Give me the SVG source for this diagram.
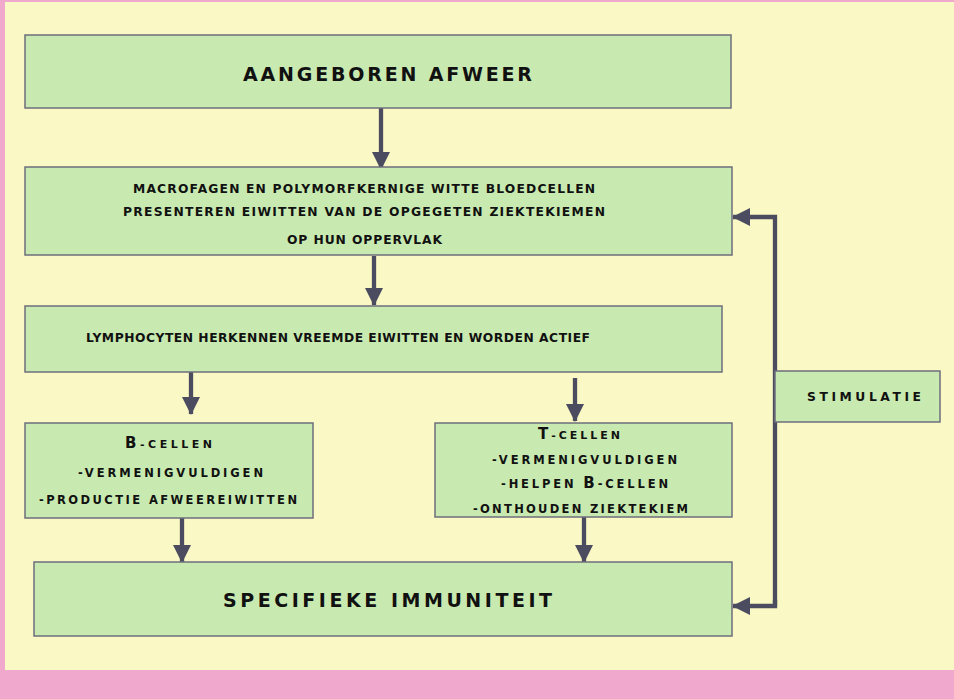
<svg xmlns="http://www.w3.org/2000/svg" width="954" height="699" viewBox="0 0 954 699">
<defs>
<style>
.box{fill:#c8eab0;stroke:#6e6e7c;stroke-width:1.5}
.t{font-family:"DejaVu Sans","Liberation Sans",sans-serif;font-weight:bold;fill:#111}
.big{font-size:19px}
.sm{font-size:12.3px}
.xs{font-size:11.5px}
.c{fill:none;stroke:#4c4c60;stroke-width:4.3}
</style>
<marker id="ah" markerUnits="userSpaceOnUse" markerWidth="18" markerHeight="18" viewBox="0 0 18 18" refX="17" refY="9" orient="auto">
<path d="M0,0 L18,9 L0,18 Z" fill="#4c4c60"/>
</marker>
</defs>
<rect x="0" y="0" width="954" height="699" fill="#faf8c4"/>
<rect x="0" y="0" width="954" height="2" fill="#f0a8cc"/>
<rect x="0" y="0" width="5" height="699" fill="#f0a8cc"/>
<rect x="0" y="670" width="954" height="29" fill="#f0a8cc"/>

<g id="connectors">
<line class="c" x1="381" y1="108" x2="381" y2="169" marker-end="url(#ah)"/>
<line class="c" x1="374" y1="256" x2="374" y2="305" marker-end="url(#ah)"/>
<line class="c" x1="191" y1="372" x2="191" y2="414" marker-end="url(#ah)"/>
<line class="c" x1="575" y1="378" x2="575" y2="421" marker-end="url(#ah)"/>
<line class="c" x1="182" y1="518" x2="182" y2="562" marker-end="url(#ah)"/>
<line class="c" x1="584" y1="517" x2="584" y2="562" marker-end="url(#ah)"/>
<polyline class="c" points="775,606 775,217 733,217" marker-end="url(#ah)"/>
<polyline class="c" points="775,600 775,606 733,606" marker-end="url(#ah)"/>
</g>

<g id="aangeboren">
<rect class="box" x="25" y="35" width="706" height="73"/>
<text class="t big" x="243" y="81" textLength="289" lengthAdjust="spacing">AANGEBOREN AFWEER</text>
</g>

<g id="macrofagen">
<rect class="box" x="25" y="167" width="707" height="88"/>
<text class="t sm" x="133" y="193" textLength="462" lengthAdjust="spacing">MACROFAGEN EN POLYMORFKERNIGE WITTE BLOEDCELLEN</text>
<text class="t sm" x="123" y="216" textLength="482" lengthAdjust="spacing">PRESENTEREN EIWITTEN VAN DE OPGEGETEN ZIEKTEKIEMEN</text>
<text class="t sm" x="287" y="244" textLength="155" lengthAdjust="spacing">OP HUN OPPERVLAK</text>
</g>

<g id="lymphocyten">
<rect class="box" x="25" y="306" width="697" height="66"/>
<text class="t sm" x="86" y="342" textLength="504" lengthAdjust="spacing">LYMPHOCYTEN HERKENNEN VREEMDE EIWITTEN EN WORDEN ACTIEF</text>
</g>

<g id="bcellen">
<rect class="box" x="25" y="423" width="288" height="95"/>
<text class="t" x="125" y="448" textLength="87" lengthAdjust="spacing"><tspan font-size="15">B</tspan><tspan font-size="11">-CELLEN</tspan></text>
<text class="t xs" x="78" y="477" textLength="185" lengthAdjust="spacing">-VERMENIGVULDIGEN</text>
<text class="t xs" x="39" y="504" textLength="258" lengthAdjust="spacing">-PRODUCTIE AFWEEREIWITTEN</text>
</g>

<g id="tcellen">
<rect class="box" x="435" y="423" width="297" height="94"/>
<text class="t" x="538" y="439" textLength="82" lengthAdjust="spacing"><tspan font-size="15">T</tspan><tspan font-size="11">-CELLEN</tspan></text>
<text class="t xs" x="492" y="464" textLength="185" lengthAdjust="spacing">-VERMENIGVULDIGEN</text>
<text class="t xs" x="501" y="488" textLength="167" lengthAdjust="spacing">-HELPEN <tspan font-size="15">B</tspan>-CELLEN</text>
<text class="t xs" x="473" y="513" textLength="215" lengthAdjust="spacing">-ONTHOUDEN ZIEKTEKIEM</text>
</g>

<g id="specifieke">
<rect class="box" x="34" y="562" width="698" height="74"/>
<text class="t big" x="223" y="607" textLength="329" lengthAdjust="spacing">SPECIFIEKE IMMUNITEIT</text>
</g>

<g id="stimulatie">
<rect class="box" x="775" y="371" width="165" height="51"/>
<text class="t sm" x="807" y="401" textLength="114" lengthAdjust="spacing">STIMULATIE</text>
</g>
</svg>
